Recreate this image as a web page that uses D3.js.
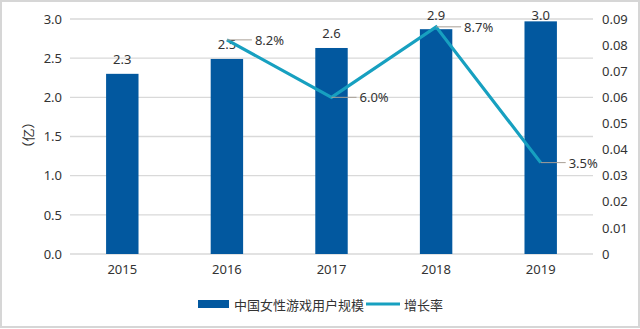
<!DOCTYPE html>
<html><head><meta charset="utf-8">
<script src="https://cdn.jsdelivr.net/npm/d3@7"></script>
<style>
body{margin:0;background:#fff;}
text{font-family:"Noto Sans","Noto Sans CJK SC",sans-serif;}
text.cjk{font-family:"Noto Sans CJK SC",sans-serif;}
</style></head>
<body>
<svg id="c" width="640" height="329"></svg>
<script>
const years = ["2015","2016","2017","2018","2019"];
const users = [2.3, 2.49, 2.63, 2.87, 2.97];
const userLabels = ["2.3","2.5","2.6","2.9","3.0"];
const growthYears = ["2016","2017","2018","2019"];
const growth = [0.082, 0.060, 0.087, 0.035];
const growthLabels = ["8.2%","6.0%","8.7%","3.5%"];
const leftTicks = [0,0.5,1,1.5,2,2.5,3];
const rightTicks = [0,0.01,0.02,0.03,0.04,0.05,0.06,0.07,0.08,0.09];
const seriesNames = ["中国女性游戏用户规模","增长率"];
const yTitle = "（亿）";

const barColor = "#02589f", lineColor = "#17a0c0", gridColor = "#d9d9d9", textColor = "#333";
const svg = d3.select("#c");
svg.append("rect").attr("x",1).attr("y",1).attr("width",638).attr("height",326)
  .attr("fill","#fff").attr("stroke","#d6d6d6").attr("stroke-width",2);

const x = d3.scaleBand().domain(years).range([70,593]).paddingInner(0.69).paddingOuter(0.345);
const yL = d3.scaleLinear().domain([0,3]).range([254,19]);
const yR = d3.scaleLinear().domain([0,0.09]).range([254,19]);

// gridlines
svg.append("g").selectAll("line").data(leftTicks).join("line")
  .attr("x1",70).attr("x2",593).attr("y1",d=>yL(d)).attr("y2",d=>yL(d))
  .attr("stroke",gridColor).attr("stroke-width",1.3);

// left axis
const gl = svg.append("g").attr("transform","translate(70,0)")
  .call(d3.axisLeft(yL).tickValues(leftTicks).tickFormat(d3.format(".1f")).tickSize(0).tickPadding(8));
gl.select(".domain").remove();
gl.selectAll("text").attr("font-size",13).attr("fill",textColor);

// right axis
const gr = svg.append("g").attr("transform","translate(593,0)")
  .call(d3.axisRight(yR).tickValues(rightTicks).tickFormat(d=>d===0?"0":d3.format(".2f")(d)).tickSize(0).tickPadding(9));
gr.select(".domain").remove();
gr.selectAll("text").attr("font-size",13).attr("fill",textColor);

// bottom axis
const gb = svg.append("g").attr("transform","translate(0,254)")
  .call(d3.axisBottom(x).tickSize(0).tickPadding(11));
gb.select(".domain").remove();
gb.selectAll("text").attr("font-size",13).attr("fill",textColor);

// y title
svg.append("text").attr("class","cjk").attr("transform","translate(27,135) rotate(-90)")
  .attr("text-anchor","middle").attr("dominant-baseline","central")
  .attr("font-size",13).attr("fill",textColor).text(yTitle);

// bars
svg.append("g").selectAll("rect").data(years).join("rect")
  .attr("x",d=>x(d)).attr("width",x.bandwidth())
  .attr("y",(d,i)=>yL(users[i])).attr("height",(d,i)=>yL(0)-yL(users[i]))
  .attr("fill",barColor);

// bar labels
svg.append("g").selectAll("text").data(years).join("text")
  .attr("x",d=>x(d)+x.bandwidth()/2)
  .attr("y",(d,i)=>Math.max(yL(users[i])-10, 20))
  .attr("text-anchor","middle").attr("font-size",13).attr("fill",textColor)
  .text((d,i)=>userLabels[i]);

// line
const cx = d => x(d)+x.bandwidth()/2;
const pts = growthYears.map((d,i)=>[cx(d), yR(growth[i])]);
svg.append("path").attr("d",d3.line()(pts)).attr("fill","none")
  .attr("stroke",lineColor).attr("stroke-width",3.2).attr("stroke-linejoin","miter");

// leader lines + labels
const lg = svg.append("g");
pts.forEach((p,i)=>{
  lg.append("line").attr("x1",p[0]).attr("y1",p[1]).attr("x2",p[0]+25).attr("y2",p[1])
    .attr("stroke","#a89f96").attr("stroke-width",1);
  lg.append("text").attr("x",p[0]+28).attr("y",p[1]).attr("dominant-baseline","central")
    .attr("font-size",13).attr("fill",textColor).text(growthLabels[i]);
});

// legend
const leg = svg.append("g");
leg.append("rect").attr("x",198).attr("y",300).attr("width",31).attr("height",8).attr("fill",barColor);
leg.append("text").attr("class","cjk").attr("x",234).attr("y",304).attr("dominant-baseline","central")
  .attr("font-size",13).attr("fill",textColor).text(seriesNames[0]);
leg.append("line").attr("x1",366).attr("x2",400).attr("y1",304).attr("y2",304)
  .attr("stroke",lineColor).attr("stroke-width",3.2);
leg.append("text").attr("class","cjk").attr("x",404).attr("y",304).attr("dominant-baseline","central")
  .attr("font-size",13).attr("fill",textColor).text(seriesNames[1]);
</script>
</body></html>
